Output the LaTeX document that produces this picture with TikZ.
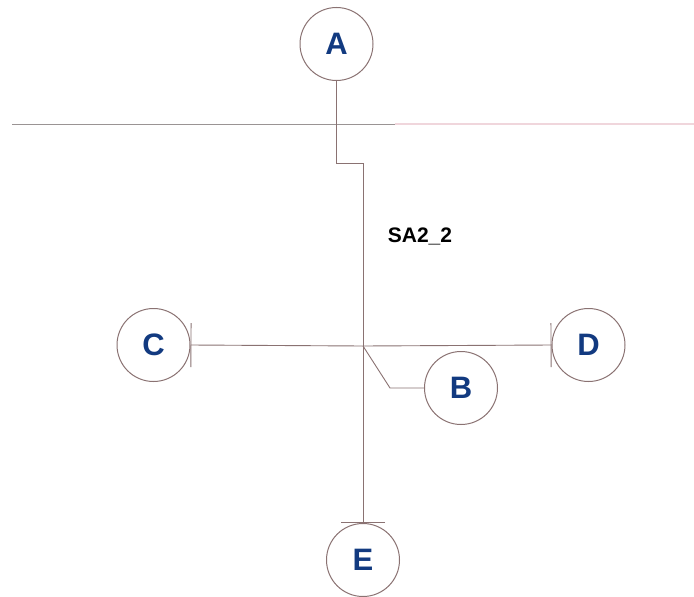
\documentclass[tikz,border=0pt]{standalone}
\usepackage{fontspec}
\setmainfont{Liberation Sans}
\usetikzlibrary{arrows.meta}
\definecolor{wire}{HTML}{8A7272}
\definecolor{label}{HTML}{123A80}
\definecolor{rule}{HTML}{9A9494}
\definecolor{faint}{HTML}{F0D6DC}
\begin{document}
\begin{tikzpicture}[x=1pt,y=-1pt,
  bus/.style={circle,draw=wire,line width=1pt,minimum size=73pt,inner sep=0pt,
    text=label,font=\fontsize{31}{31}\selectfont\bfseries},
  link/.style={draw=wire,line width=0.9pt},
  ended/.style={link,-{Bar[width=44pt,line width=0.9pt]}}]
\useasboundingbox (0,0) rectangle (694,597);
\fill[white] (0,0) rectangle (694,597);
% boundary line across the sheet
\coordinate (L0) at (12,124);
\coordinate (L1) at (395,124);
\coordinate (L2) at (694,124);
\draw[draw=rule,line width=0.9pt] (L0) -- (L1);
\draw[draw=faint,line width=1.4pt] (L1) -- (L2);
% stations
\node[bus] (A) at (336.5,44) {A};
\node[bus] (C) at (153.5,345) {C};
\node[bus] (D) at (588.5,345) {D};
\node[bus] (B) at (461,388) {B};
\node[bus] (E) at (363,560) {E};
% junction and bends
\coordinate (J) at (363,346);
\coordinate (K1) at (336.5,163);
\coordinate (K2) at (363,163);
\coordinate (K3) at (390,388);
% connectors
\draw[link] (A) -- (K1) -- (K2) -- (J);
\draw[ended] (J) -- (C.east);
\draw[ended] (J) -- (D.west);
\draw[ended] (J) -- (E.north);
\draw[link] (J) -- (K3) -- (B.west);
\node[font=\fontsize{21}{21}\selectfont\bfseries] (T) at (420,236) {SA2\_2};
\end{tikzpicture}
\end{document}
